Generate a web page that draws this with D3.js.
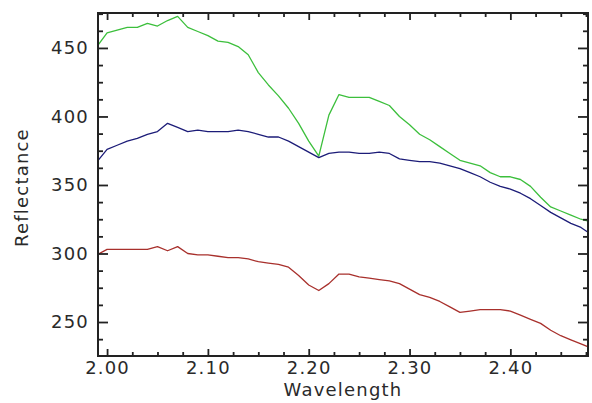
<!DOCTYPE html>
<html>
<head>
<meta charset="utf-8">
<script src="https://cdn.jsdelivr.net/npm/d3@7"></script>
<style>
  body { margin: 0; background: #fff; }
  text { font-family: "DejaVu Sans", sans-serif; fill: #2a2a2a; }
</style>
</head>
<body>
<div id="chart"></div>
<script>
// wavelength samples (micrometres)
var wavelength = [1.99, 2.00, 2.01, 2.02, 2.03, 2.04, 2.05, 2.06, 2.07, 2.08,
                  2.09, 2.10, 2.11, 2.12, 2.13, 2.14, 2.15, 2.16, 2.17, 2.18,
                  2.19, 2.20, 2.21, 2.22, 2.23, 2.24, 2.25, 2.26, 2.27, 2.28,
                  2.29, 2.30, 2.31, 2.32, 2.33, 2.34, 2.35, 2.36, 2.37, 2.38,
                  2.39, 2.40, 2.41, 2.42, 2.43, 2.44, 2.45, 2.46, 2.47, 2.48];

var greenSpectrum = [451, 461, 463, 465, 465, 468, 466, 470, 473, 465,
                     462, 459, 455, 454, 451, 445, 432, 423, 415, 406,
                     395, 382, 371, 401, 416, 414, 414, 414, 411, 408,
                     400, 394, 387, 383, 378, 373, 368, 366, 364, 359,
                     356, 356, 354, 349, 341, 334, 331, 328, 325, 323];

var blueSpectrum = [367, 376, 379, 382, 384, 387, 389, 395, 392, 389,
                    390, 389, 389, 389, 390, 389, 387, 385, 385, 382,
                    378, 374, 370, 373, 374, 374, 373, 373, 374, 373,
                    369, 368, 367, 367, 366, 364, 362, 359, 356, 352,
                    349, 347, 344, 340, 335, 330, 326, 322, 319, 314];

var redSpectrum = [299, 303, 303, 303, 303, 303, 305, 302, 305, 300,
                   299, 299, 298, 297, 297, 296, 294, 293, 292, 290,
                   284, 277, 273, 278, 285, 285, 283, 282, 281, 280,
                   278, 274, 270, 268, 265, 261, 257, 258, 259, 259,
                   259, 258, 255, 252, 249, 244, 240, 237, 234, 231];

var xMajorTicks = [2.00, 2.10, 2.20, 2.30, 2.40];
var yMajorTicks = [250, 300, 350, 400, 450];

var series = [
    { name: "green", values: greenSpectrum, color: "#3cbf3c" },
    { name: "blue", values: blueSpectrum, color: "#1c1c78" },
    { name: "red", values: redSpectrum, color: "#a8302c" }
];

var width = 592, height = 403;
var margin = { top: 13, right: 4, bottom: 47, left: 98 };
var w = width - margin.left - margin.right,
    h = height - margin.top - margin.bottom;

var svg = d3.select("#chart").append("svg").attr("width", width).attr("height", height);

var xScale = d3.scaleLinear().domain([1.991, 2.477]).range([0, w]);
var yScale = d3.scaleLinear().domain([225.2, 475.5]).range([h, 0]);

var xMinor = d3.range(1.975, 2.49, 0.025).filter(t => t > 1.991 && t < 2.477 && Math.abs(t * 10 - Math.round(t * 10)) > 0.01);
var yMinor = d3.range(225, 476, 12.5).filter(t => t > 225.2 && t < 475.5 && t % 50 != 0);

var g = svg.append("g").attr("transform", "translate(" + margin.left + "," + margin.top + ")");

g.append("clipPath").attr("id", "clip").append("rect").attr("width", w).attr("height", h);

var line = d3.line().x((d, i) => xScale(wavelength[i])).y(d => yScale(d));

g.append("g").attr("clip-path", "url(#clip)")
    .selectAll("path")
    .data(series)
    .enter()
    .append("path")
    .attr("d", d => line(d.values))
    .style("fill", "none")
    .style("stroke", d => d.color)
    .style("stroke-width", 1.3)
    .style("stroke-linejoin", "round");

// frame
g.append("rect").attr("width", w).attr("height", h)
    .style("fill", "none").style("stroke", "#222").style("stroke-width", 2);

function styleAxis(sel) {
    sel.select(".domain").remove();
    sel.selectAll("line").style("stroke", "#222").style("stroke-width", 1.8);
    sel.selectAll("text").style("font-size", "18px").style("letter-spacing", "1.2px").style("fill", "#2a2a2a");
}

// bottom axis
g.append("g").attr("transform", "translate(0," + h + ")")
    .call(d3.axisBottom(xScale).tickValues(xMajorTicks).tickSize(-7).tickPadding(5).tickFormat(d3.format(".2f")))
    .call(styleAxis);
g.append("g").attr("transform", "translate(0," + h + ")")
    .call(d3.axisBottom(xScale).tickValues(xMinor).tickSize(-4).tickFormat(""))
    .call(styleAxis);

// top axis
g.append("g")
    .call(d3.axisTop(xScale).tickValues(xMajorTicks).tickSize(-7).tickFormat(""))
    .call(styleAxis);
g.append("g")
    .call(d3.axisTop(xScale).tickValues(xMinor).tickSize(-4).tickFormat(""))
    .call(styleAxis);

// left axis
g.append("g")
    .call(d3.axisLeft(yScale).tickValues(yMajorTicks).tickSize(-10).tickPadding(9))
    .call(styleAxis);
g.append("g")
    .call(d3.axisLeft(yScale).tickValues(yMinor).tickSize(-5).tickFormat(""))
    .call(styleAxis);

// right axis
g.append("g").attr("transform", "translate(" + w + ",0)")
    .call(d3.axisRight(yScale).tickValues(yMajorTicks).tickSize(-10).tickFormat(""))
    .call(styleAxis);
g.append("g").attr("transform", "translate(" + w + ",0)")
    .call(d3.axisRight(yScale).tickValues(yMinor).tickSize(-5).tickFormat(""))
    .call(styleAxis);

svg.append("text")
    .attr("x", margin.left + w / 2).attr("y", 396)
    .attr("text-anchor", "middle")
    .style("font-size", "18px").style("letter-spacing", "1.2px")
    .text("Wavelength");

svg.append("text")
    .attr("transform", "translate(28," + (margin.top + h / 2 + 3) + ") rotate(-90)")
    .attr("text-anchor", "middle")
    .style("font-size", "18px").style("letter-spacing", "1.2px")
    .text("Reflectance");
</script>
</body>
</html>
